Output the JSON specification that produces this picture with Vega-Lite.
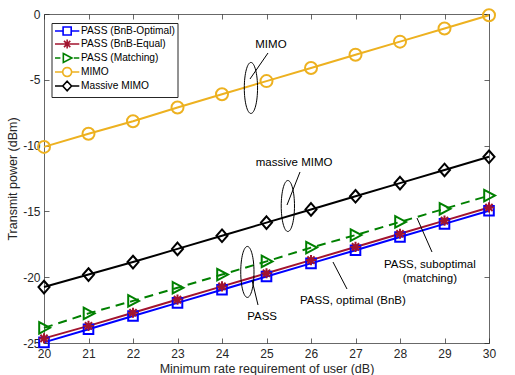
{
  "$schema": "https://vega.github.io/schema/vega-lite/v6.json",
  "width": 445,
  "height": 329,
  "autosize": "none",
  "padding": {"left": 44, "top": 14, "right": 26, "bottom": 32},
  "background": "white",
  "config": {
    "view": {"stroke": null},
    "font": "Liberation Sans",
    "axis": {
      "grid": false,
      "domainColor": "#262626",
      "domainWidth": 0.7,
      "tickColor": "#262626",
      "tickWidth": 0.7,
      "tickSize": -5,
      "labelFont": "Liberation Sans",
      "labelFontSize": 12,
      "labelColor": "#262626",
      "labelOverlap": false,
      "labelFlush": false,
      "titleFont": "Liberation Sans",
      "titleFontSize": 12.5,
      "titleFontWeight": "normal",
      "titleColor": "#262626"
    }
  },
  "datasets": {
    "series": [
      {"rate": 20, "series": "PASS (BnB-Optimal)", "power": -24.95},
      {"rate": 21, "series": "PASS (BnB-Optimal)", "power": -23.95},
      {"rate": 22, "series": "PASS (BnB-Optimal)", "power": -22.95},
      {"rate": 23, "series": "PASS (BnB-Optimal)", "power": -21.95},
      {"rate": 24, "series": "PASS (BnB-Optimal)", "power": -20.95},
      {"rate": 25, "series": "PASS (BnB-Optimal)", "power": -19.95},
      {"rate": 26, "series": "PASS (BnB-Optimal)", "power": -18.95},
      {"rate": 27, "series": "PASS (BnB-Optimal)", "power": -17.95},
      {"rate": 28, "series": "PASS (BnB-Optimal)", "power": -16.95},
      {"rate": 29, "series": "PASS (BnB-Optimal)", "power": -15.95},
      {"rate": 30, "series": "PASS (BnB-Optimal)", "power": -14.95},
      {"rate": 20, "series": "PASS (BnB-Equal)", "power": -24.65},
      {"rate": 21, "series": "PASS (BnB-Equal)", "power": -23.7},
      {"rate": 22, "series": "PASS (BnB-Equal)", "power": -22.7},
      {"rate": 23, "series": "PASS (BnB-Equal)", "power": -21.7},
      {"rate": 24, "series": "PASS (BnB-Equal)", "power": -20.7},
      {"rate": 25, "series": "PASS (BnB-Equal)", "power": -19.7},
      {"rate": 26, "series": "PASS (BnB-Equal)", "power": -18.7},
      {"rate": 27, "series": "PASS (BnB-Equal)", "power": -17.7},
      {"rate": 28, "series": "PASS (BnB-Equal)", "power": -16.7},
      {"rate": 29, "series": "PASS (BnB-Equal)", "power": -15.7},
      {"rate": 30, "series": "PASS (BnB-Equal)", "power": -14.7},
      {"rate": 20, "series": "PASS (Matching)", "power": -23.85},
      {"rate": 21, "series": "PASS (Matching)", "power": -22.75},
      {"rate": 22, "series": "PASS (Matching)", "power": -21.8},
      {"rate": 23, "series": "PASS (Matching)", "power": -20.8},
      {"rate": 24, "series": "PASS (Matching)", "power": -19.8},
      {"rate": 25, "series": "PASS (Matching)", "power": -18.8},
      {"rate": 26, "series": "PASS (Matching)", "power": -17.75},
      {"rate": 27, "series": "PASS (Matching)", "power": -16.8},
      {"rate": 28, "series": "PASS (Matching)", "power": -15.8},
      {"rate": 29, "series": "PASS (Matching)", "power": -14.8},
      {"rate": 30, "series": "PASS (Matching)", "power": -13.8},
      {"rate": 20, "series": "MIMO", "power": -10.1},
      {"rate": 21, "series": "MIMO", "power": -9.1},
      {"rate": 22, "series": "MIMO", "power": -8.15},
      {"rate": 23, "series": "MIMO", "power": -7.1},
      {"rate": 24, "series": "MIMO", "power": -6.1},
      {"rate": 25, "series": "MIMO", "power": -5.1},
      {"rate": 26, "series": "MIMO", "power": -4.1},
      {"rate": 27, "series": "MIMO", "power": -3.1},
      {"rate": 28, "series": "MIMO", "power": -2.1},
      {"rate": 29, "series": "MIMO", "power": -1.1},
      {"rate": 30, "series": "MIMO", "power": -0.1},
      {"rate": 20, "series": "Massive MIMO", "power": -20.75},
      {"rate": 21, "series": "Massive MIMO", "power": -19.8},
      {"rate": 22, "series": "Massive MIMO", "power": -18.85},
      {"rate": 23, "series": "Massive MIMO", "power": -17.85},
      {"rate": 24, "series": "Massive MIMO", "power": -16.85},
      {"rate": 25, "series": "Massive MIMO", "power": -15.85},
      {"rate": 26, "series": "Massive MIMO", "power": -14.85},
      {"rate": 27, "series": "Massive MIMO", "power": -13.85},
      {"rate": 28, "series": "Massive MIMO", "power": -12.85},
      {"rate": 29, "series": "Massive MIMO", "power": -11.85},
      {"rate": 30, "series": "Massive MIMO", "power": -10.85}
    ],
    "notes": [
      {"label": "MIMO", "tx": 25.1, "ty": -2.36},
      {"label": "massive MIMO", "tx": 25.62, "ty": -11.32},
      {"label": "PASS", "tx": 24.9, "ty": -23.02},
      {"label": "PASS, optimal (BnB)", "tx": 26.94, "ty": -21.81},
      {"label": "PASS, suboptimal", "tx": 28.67, "ty": -19.07},
      {"label": "(matching)", "tx": 28.67, "ty": -20.14}
    ],
    "arrows": [
      {"ax": 24.629, "ay": -4.939, "bx": 25.034, "by": -2.964},
      {"ax": 25.461, "ay": -14.514, "bx": 25.753, "by": -12.006},
      {"ax": 24.674, "ay": -20.213, "bx": 24.809, "by": -22.112},
      {"ax": 26.494, "ay": -18.845, "bx": 26.809, "by": -20.897},
      {"ax": 28.382, "ay": -15.502, "bx": 28.719, "by": -18.085}
    ],
    "ellipses": [
      {"ex": 24.65, "ey": -5.62},
      {"ex": 25.48, "ey": -14.59},
      {"ex": 24.57, "ey": -19.6}
    ]
  },
  "resolve": {
    "scale": {"color": "independent", "shape": "independent"},
    "axis": {"x": "independent", "y": "independent"}
  },
  "layer": [
    {
      "data": {"name": "series"},
      "transform": [{"filter": "datum.series !== 'PASS (Matching)'"}],
      "mark": {"type": "line", "strokeWidth": 2},
      "encoding": {
        "x": {
          "field": "rate", "type": "quantitative",
          "scale": {"domain": [20, 30], "nice": false, "zero": false},
          "axis": {
            "values": [20, 21, 22, 23, 24, 25, 26, 27, 28, 29, 30],
            "labelPadding": 10,
            "labelExpr": "'' + datum.value",
            "title": "Minimum rate requirement of user (dB)",
            "titlePadding": 3
          }
        },
        "y": {
          "field": "power", "type": "quantitative",
          "scale": {"domain": [-25, 0], "nice": false, "zero": false},
          "axis": {
            "values": [-25, -20, -15, -10, -5, 0],
            "labelPadding": 9,
            "labelExpr": "'' + datum.value",
            "title": "Transmit power (dBm)",
            "titlePadding": 3
          }
        },
        "color": {
          "field": "series", "type": "nominal",
          "scale": {
            "domain": ["PASS (BnB-Optimal)", "PASS (BnB-Equal)", "PASS (Matching)", "MIMO", "Massive MIMO"],
            "range": ["#0000FF", "#A2142F", "#008000", "#EDB120", "#000000"]
          },
          "legend": null
        }
      }
    },
    {
      "data": {"name": "series"},
      "transform": [{"filter": "datum.series === 'PASS (Matching)'"}],
      "mark": {"type": "line", "strokeWidth": 2, "strokeDash": [9, 6], "color": "#008000"},
      "encoding": {
        "x": {"field": "rate", "type": "quantitative", "axis": null},
        "y": {"field": "power", "type": "quantitative", "axis": null}
      }
    },
    {
      "data": {"name": "series"},
      "mark": {"type": "point", "filled": false, "strokeWidth": 2, "opacity": 1, "size": 144},
      "encoding": {
        "x": {"field": "rate", "type": "quantitative", "axis": null},
        "y": {"field": "power", "type": "quantitative", "axis": null},
        "color": {
          "field": "series", "type": "nominal",
          "scale": {
            "domain": ["PASS (BnB-Optimal)", "PASS (BnB-Equal)", "PASS (Matching)", "MIMO", "Massive MIMO"],
            "range": ["#0000FF", "#A2142F", "#008000", "#EDB120", "#000000"]
          },
          "legend": null
        },
        "shape": {
          "field": "series", "type": "nominal",
          "scale": {
            "domain": ["PASS (BnB-Optimal)", "PASS (BnB-Equal)", "PASS (Matching)", "MIMO", "Massive MIMO"],
            "range": [
              "M-0.8,-0.8H0.8V0.8H-0.8Z",
              "M0,-0.85V0.85M-0.85,0H0.85M-0.6,-0.6L0.6,0.6M-0.6,0.6L0.6,-0.6",
              "M-0.8,-0.95L1,0L-0.8,0.95Z",
              "circle",
              "M0,-1.05L0.92,0L0,1.05L-0.92,0Z"
            ]
          },
          "legend": null
        }
      }
    },
    {
      "data": {"name": "series"},
      "transform": [{"filter": "datum.rate > 100"}],
      "mark": {"type": "point", "filled": false, "strokeWidth": 1.6, "strokeJoin": "round", "opacity": 1},
      "encoding": {
        "x": {"field": "rate", "type": "quantitative", "axis": null},
        "y": {"field": "power", "type": "quantitative", "axis": null},
        "color": {
          "field": "series", "type": "nominal",
          "scale": {
            "domain": ["PASS (BnB-Optimal)", "PASS (BnB-Equal)", "PASS (Matching)", "MIMO", "Massive MIMO"],
            "range": ["#0000FF", "#A2142F", "#008000", "#EDB120", "#000000"]
          },
          "legend": {
            "orient": "none", "legendX": 7.5, "legendY": 9, "title": null,
            "symbolSize": 81, "symbolStrokeWidth": 1.6,
            "padding": 2.5, "rowPadding": -10, "labelOffset": 16,
            "labelFont": "Liberation Sans", "labelFontSize": 10.2, "labelColor": "#000000",
            "strokeColor": "#262626", "fillColor": "#ffffff",
            "encode": {"symbols": {"strokeJoin": {"value": "round"}}}
          }
        },
        "shape": {
          "field": "series", "type": "nominal",
          "scale": {
            "domain": ["PASS (BnB-Optimal)", "PASS (BnB-Equal)", "PASS (Matching)", "MIMO", "Massive MIMO"],
            "range": [
              "M-1,0H0.8M2.6,0H4.4M0.8,-0.9H2.6V0.9H0.8Z",
              "M-1,0H4.4M1.7,-1V1M1,-0.7L2.4,0.7M1,0.7L2.4,-0.7",
              "M-1,0H0.2M3.2,0H4.4M0.85,-1L2.75,0L0.85,1Z",
              "M-1,0H0.7M2.7,0H4.4M2.7,0L2.62,-0.38L2.41,-0.71L2.08,-0.92L1.7,-1L1.32,-0.92L0.99,-0.71L0.78,-0.38L0.7,0L0.78,0.38L0.99,0.71L1.32,0.92L1.7,1L2.08,0.92L2.41,0.71L2.62,0.38Z",
              "M-1,0H0.72M2.68,0H4.4M1.7,-1.05L2.68,0L1.7,1.05L0.72,0Z"
            ]
          },
          "legend": {
            "orient": "none", "legendX": 7.5, "legendY": 9, "title": null,
            "symbolSize": 81, "symbolStrokeWidth": 1.6,
            "padding": 2.5, "rowPadding": -10, "labelOffset": 16,
            "labelFont": "Liberation Sans", "labelFontSize": 10.2, "labelColor": "#000000",
            "strokeColor": "#262626", "fillColor": "#ffffff",
            "encode": {"symbols": {"strokeJoin": {"value": "round"}}}
          }
        }
      }
    },
    {
      "data": {"name": "ellipses"},
      "mark": {"type": "point", "shape": "M0,-1A0.26,1 0 1,1 0,1A0.26,1 0 1,1 0,-1Z", "size": 2601, "filled": false, "stroke": "#000000", "strokeWidth": 1, "opacity": 1},
      "encoding": {
        "x": {"field": "ex", "type": "quantitative", "axis": {"orient": "top", "values": [20, 21, 22, 23, 24, 25, 26, 27, 28, 29, 30], "labels": false, "title": null}},
        "y": {"field": "ey", "type": "quantitative", "axis": {"orient": "right", "values": [-25, -20, -15, -10, -5, 0], "labels": false, "title": null}}
      }
    },
    {
      "data": {"name": "arrows"},
      "mark": {"type": "rule", "color": "#000000", "strokeWidth": 1},
      "encoding": {
        "x": {"field": "ax", "type": "quantitative", "axis": null},
        "y": {"field": "ay", "type": "quantitative", "axis": null},
        "x2": {"field": "bx"},
        "y2": {"field": "by"}
      }
    },
    {
      "mark": {"type": "point", "shape": "M0,0L-1,2.8L1,2.8Z", "size": 25, "filled": true, "color": "#000000", "opacity": 1, "angle": 34.7},
      "encoding": {"x": {"datum": 25.034, "type": "quantitative", "axis": null}, "y": {"datum": -2.964, "type": "quantitative", "axis": null}}
    },
    {
      "mark": {"type": "point", "shape": "M0,0L-1,2.8L1,2.8Z", "size": 25, "filled": true, "color": "#000000", "opacity": 1, "angle": 21.5},
      "encoding": {"x": {"datum": 25.753, "type": "quantitative", "axis": null}, "y": {"datum": -12.006, "type": "quantitative", "axis": null}}
    },
    {
      "mark": {"type": "point", "shape": "M0,0L-1,2.8L1,2.8Z", "size": 25, "filled": true, "color": "#000000", "opacity": 1, "angle": 166.5},
      "encoding": {"x": {"datum": 24.809, "type": "quantitative", "axis": null}, "y": {"datum": -22.112, "type": "quantitative", "axis": null}}
    },
    {
      "mark": {"type": "point", "shape": "M0,0L-1,2.8L1,2.8Z", "size": 25, "filled": true, "color": "#000000", "opacity": 1, "angle": 152.6},
      "encoding": {"x": {"datum": 26.809, "type": "quantitative", "axis": null}, "y": {"datum": -20.897, "type": "quantitative", "axis": null}}
    },
    {
      "mark": {"type": "point", "shape": "M0,0L-1,2.8L1,2.8Z", "size": 25, "filled": true, "color": "#000000", "opacity": 1, "angle": 156.2},
      "encoding": {"x": {"datum": 28.719, "type": "quantitative", "axis": null}, "y": {"datum": -18.085, "type": "quantitative", "axis": null}}
    },
    {
      "data": {"name": "notes"},
      "mark": {"type": "text", "font": "Liberation Sans", "fontSize": 11.5, "color": "#000000", "align": "center", "baseline": "middle"},
      "encoding": {
        "x": {"field": "tx", "type": "quantitative", "axis": null},
        "y": {"field": "ty", "type": "quantitative", "axis": null},
        "text": {"field": "label"}
      }
    }
  ]
}
